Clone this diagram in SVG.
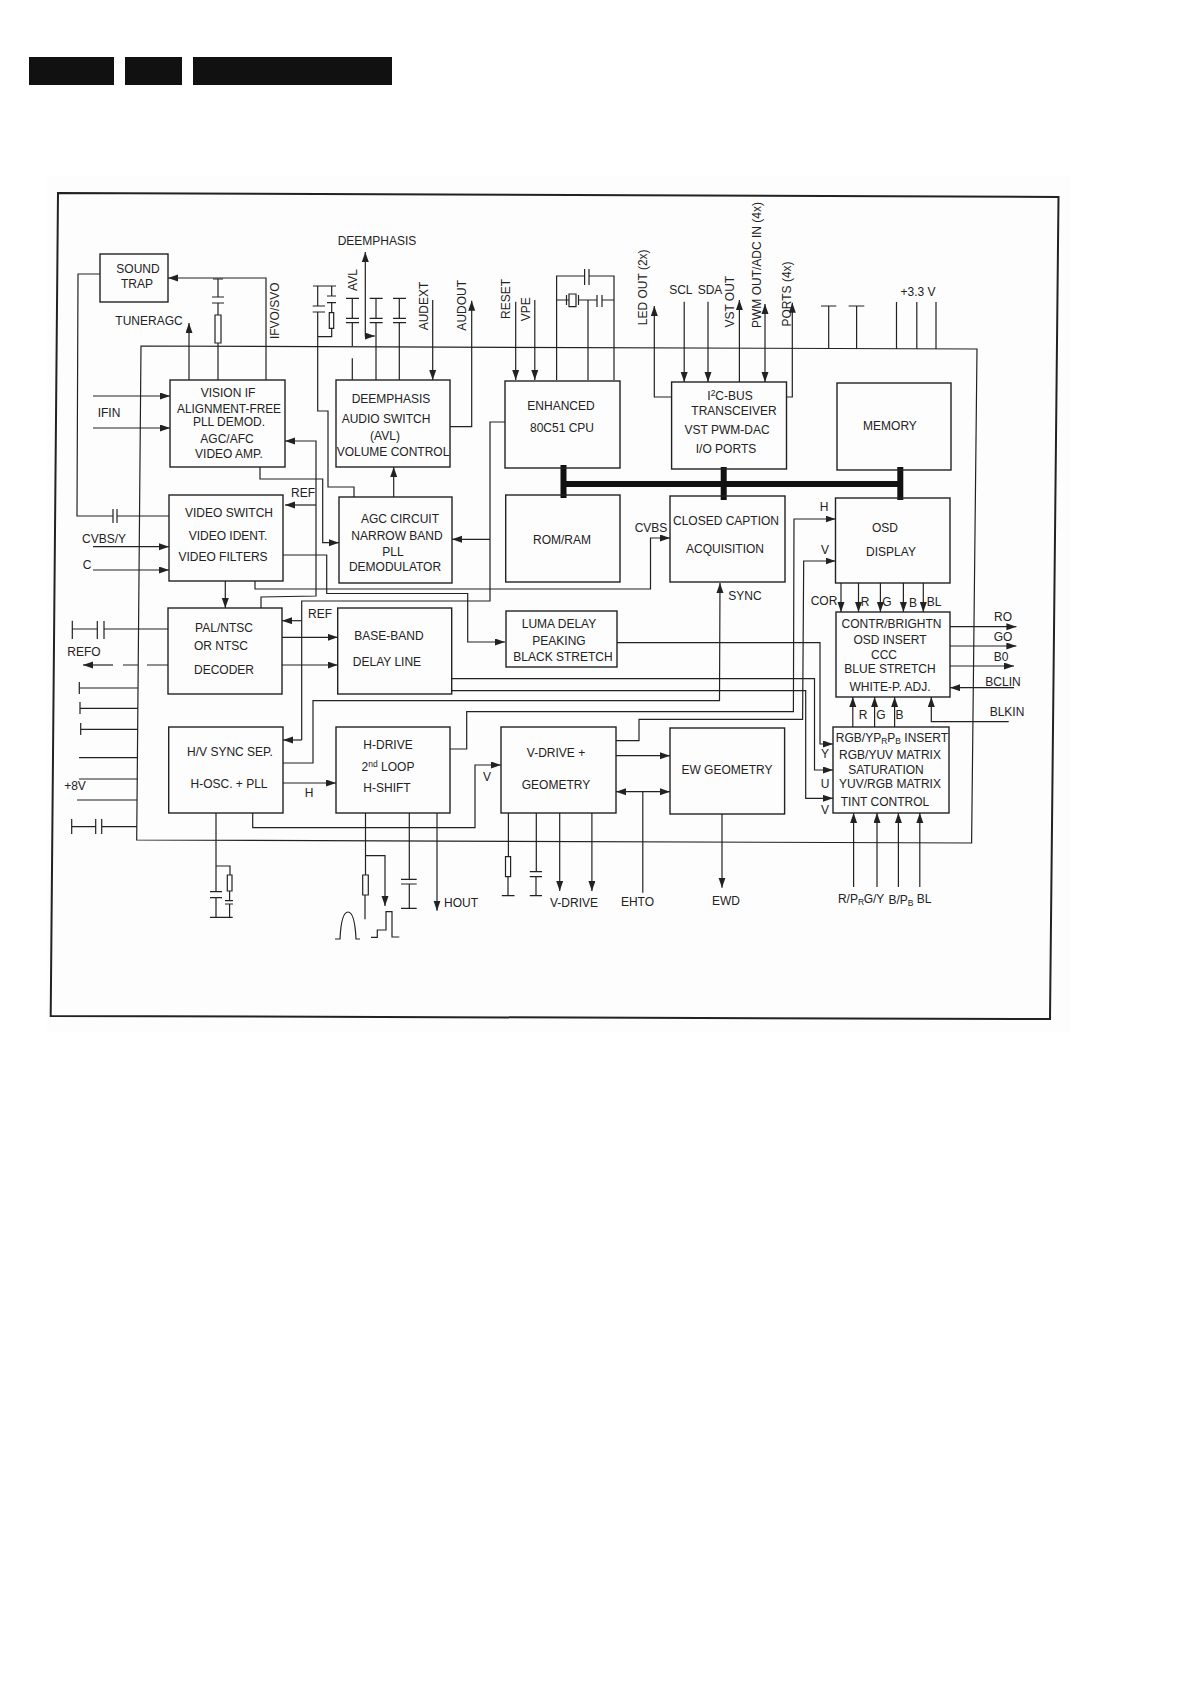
<svg xmlns="http://www.w3.org/2000/svg" width="1192" height="1685" viewBox="0 0 1192 1685">
<style>
text{font-family:"Liberation Sans",Arial,sans-serif;font-size:12px;fill:#222;text-anchor:middle;dominant-baseline:central}
.b{fill:none;stroke:#222;stroke-width:1.4}
.l{fill:none;stroke:#222;stroke-width:1.2}
.a{marker-end:url(#ah)}
.s{marker-start:url(#ahs)}
.bus{fill:none;stroke:#111;stroke-width:6}
.sm{font-size:8.5px}
</style>
<defs>
<marker id="ah" markerUnits="userSpaceOnUse" markerWidth="11" markerHeight="8" refX="10" refY="3.500" orient="auto"><path d="M0 0L10 3.500L0 7z" fill="#222"/></marker>
<marker id="ahs" markerUnits="userSpaceOnUse" markerWidth="11" markerHeight="8" refX="0" refY="3.500" orient="auto"><path d="M10 0L0 3.500L10 7z" fill="#222"/></marker>
</defs>
<rect width="1192" height="1685" fill="#fff"/>
<rect x="46" y="176" width="1024" height="856" fill="#fdfdfd"/>
<g id="header"><rect x="29" y="57" width="85" height="28" fill="#111"/><rect x="125" y="57" width="57" height="28" fill="#111"/><rect x="193" y="57" width="199" height="28" fill="#111"/></g>
<g id="frame">
<polygon class="b" points="58,193 1058.5,197 1050,1019 50.7,1016" style="stroke-width:2"/>
<polygon class="l" points="141,346 977,349 971.6,843 136.7,840"/>
</g>
<g id="connectors">
<path class="l" d="M100 274H78L77 516H113M117 516H169M113 509V523M117 509V523"/>
<path class="l a" d="M266 380V278H168"/>
<path class="l" d="M218 380V343M215 315H221V343H215ZM218 315V303M212 303H224M212 297H224M218 297V279M213 279H223"/>
<path class="l a" d="M189 380V323"/>
<path class="l a" d="M93 396H170"/>
<path class="l a" d="M93 428H170"/>
<path class="l" d="M354 497V487H328V411H317.7V312M312.7 312H325M312.7 306H325M317.7 306V286M313 286H336M331.7 286V296M327 296H336M327 302.700H336M331.700 302.700V312.700M329.300 312.700H333.700V328.300H329.300ZM331.700 328.300V336.700H317.700"/>
<path class="l" d="M352.300 298.300V318.300M346 298.300H359M346 318.300H359M346 322.700H359M352.300 322.700V346M352.300 358.300V380"/>
<path class="l" d="M376 298.300V318.300M369.700 298.300H382.700M369.700 318.300H382.700M369.700 322.700H382.700M376 322.700V380"/>
<path class="l" d="M399.300 298.300V318.300M393 298.300H406M393 318.300H406M393 322.700H406M399.300 322.700V380"/>
<path class="l a s" d="M365.300 252V336H375"/>
<path class="l a" d="M432.700 300V380"/>
<path class="l a" d="M450 426.700H471.700V300.700"/>
<path class="l a" d="M515.700 301.700V380"/>
<path class="l a" d="M534.800 300V380"/>
<path class="l" d="M556.600 380V276H584.600M589 276H614V380M584.600 269V285M589 269V285"/>
<path class="l" d="M556.600 300H569M569 294H576V306.700H569ZM566.500 295V305M578.500 295V305M578.500 300H597M597 295V307M602 295V307M602 300H614M588 300V380"/>
<path class="l" d="M505 422H490V601H301.700V740"/>
<path class="l a" d="M301.700 740H283"/>
<path class="l a" d="M301.700 620.700H282"/>
<path class="l a" d="M490 539.300H452"/>
<path class="l a" d="M261 608V597L316 596V441H285"/>
<path class="l a" d="M316 505H285"/>
<path class="l a" d="M283 555H326.700V593.500H467.700V642H505"/>
<path class="l a" d="M255 581V589H650.500V538H670"/>
<path class="l a" d="M225.300 581V608"/>
<path class="l a" d="M260 467V479H322.700V542.700H339"/>
<path class="l a" d="M393.700 497V467"/>
<path class="l a" d="M93 546.700H169"/>
<path class="l a" d="M93 570H169"/>
<path class="l" d="M72.300 620.700V639M72.300 629H97.300M97.300 621V639M104 621V639M104 629H168"/>
<path class="l" d="M168 665H147M138 665H123"/>
<path class="l a" d="M113 665H83"/>
<path class="l" d="M79.300 682V694M79.300 688H138M80 702V714M80 708.300H138M80.700 723V735M80.700 729.300H138M79 757.700H138M79 779H138M77 800H137"/>
<path class="l" d="M71.700 819V834M71.700 826.700H95.700M95.700 819V834M101.700 819V834M101.700 826.700H137"/>
<path class="l a" d="M283 763H313V700.700H719.500L720 583"/>
<path class="l a" d="M283 783H336"/>
<path class="l a" d="M252.700 813V827.700H475V765H501"/>
<path class="l" d="M216 813V891.700M210 891.700H222M210 897.700H222M216 897.700V917.300M210 917.300H232.700M216 866H230V875M227.300 875H232V891H227.300ZM229.600 891V900.700M225 900.700H233M225 904H233M229.600 904V917.300"/>
<path class="l a" d="M450 749H466.700V711.700H793.400L794 519H835.500"/>
<path class="l a" d="M616 740.700H639V719.300H802.600L803.700 561H835.500"/>
<path class="l" d="M365.500 813V875M362.700 875H368.300V895H362.700ZM365 895V919.300"/>
<path class="l a" d="M365.500 855.700H385V906"/>
<path class="l" d="M335 939H340C341 918 344 912 348 912C352 912 355 918 356 939H360"/>
<path class="l" d="M371 937.300H377.300V930H386V911.700H392V937H399.300"/>
<path class="l" d="M409.300 813V879.300M401 879.300H416.700M401 884H416.700M409.300 884V908.300M401 908.300H416.700"/>
<path class="l a" d="M437 813V910.700"/>
<path class="l" d="M508.400 813V856.700M505.500 856.700H510.600V876.700H505.500ZM508 876.700V895.700M501.800 895.700H514.500"/>
<path class="l" d="M536.300 813V871.700M529.800 871.700H542M529.800 876.700H542M536 876.700V895.700M529.800 895.700H542"/>
<path class="l a" d="M559.700 813V891"/>
<path class="l a" d="M591.900 813V891"/>
<path class="l a" d="M616 755.700H670"/>
<path class="l a s" d="M616 791.700H670"/>
<path class="l" d="M642.800 791.700V892.700"/>
<path class="l a" d="M722 814V887.700"/>
<path class="l a" d="M451.700 678.700H814.500V770H833"/>
<path class="l a" d="M451.700 690.700H805.700V798.300H833"/>
<path class="l a" d="M617 642.700H820V744H833"/>
<path class="l a" d="M282 637.300H337.700"/>
<path class="l a" d="M282 665H337.700"/>
<path class="l a" d="M841 583V612"/>
<path class="l a" d="M858.500 583V612"/>
<path class="l a" d="M880.400 583V612"/>
<path class="l a" d="M903.400 583V612"/>
<path class="l a" d="M923.300 583V612"/>
<path class="l a" d="M950 626.700H1016.400"/>
<path class="l a" d="M950 646H1016.400"/>
<path class="l a" d="M950 666H1014"/>
<path class="l a" d="M1014 687.700H950"/>
<path class="l a" d="M1008.700 721.700H931.300V697"/>
<path class="l a" d="M852.800 727V697"/>
<path class="l a" d="M874.600 727V697"/>
<path class="l a" d="M894.600 727V697"/>
<path class="l a" d="M853.600 887V813"/>
<path class="l a" d="M877 887V813"/>
<path class="l a" d="M898.400 887V813"/>
<path class="l a" d="M919.800 887V813"/>
<path class="l a" d="M671.600 397H654.300V306"/>
<path class="l a" d="M684.200 301.700V382"/>
<path class="l a" d="M708 301.700V382"/>
<path class="l a" d="M739.400 382V300"/>
<path class="l a s" d="M765 304V382"/>
<path class="l a" d="M786.500 397H792.300V302.700"/>
<path class="l" d="M821 306H836.300M828.700 306V348M848.600 306H864.300M856.600 306V349M896.500 302V349M916.800 302V349M936 302V349"/>
<path class="bus" d="M563.500 484H900.300M563.500 465V498M723.700 467V500M900.300 467V500"/>
</g>
<g id="sound-trap"><rect class="b" x="100" y="254" width="68" height="48"/><text x="138" y="269">SOUND</text><text x="137" y="284">TRAP</text></g>
<g id="vision-if"><rect class="b" x="170" y="380" width="115" height="87"/><text x="228" y="393">VISION IF</text><text x="229" y="409" textLength="104" lengthAdjust="spacingAndGlyphs">ALIGNMENT-FREE</text><text x="229" y="422">PLL DEMOD.</text><text x="227" y="439">AGC/AFC</text><text x="229" y="454">VIDEO AMP.</text></g>
<g id="video-switch"><rect class="b" x="169" y="495" width="114" height="86"/><text x="229" y="513">VIDEO SWITCH</text><text x="228" y="536">VIDEO IDENT.</text><text x="223" y="557">VIDEO FILTERS</text></g>
<g id="deemphasis"><rect class="b" x="336" y="380" width="114" height="87"/><text x="391" y="399">DEEMPHASIS</text><text x="386" y="419">AUDIO SWITCH</text><text x="385" y="436">(AVL)</text><text x="393" y="452">VOLUME CONTROL</text></g>
<g id="agc-circuit"><rect class="b" x="339" y="497" width="113" height="86"/><text x="400" y="519">AGC CIRCUIT</text><text x="397" y="536">NARROW BAND</text><text x="393" y="552">PLL</text><text x="395" y="567">DEMODULATOR</text></g>
<g id="cpu"><rect class="b" x="505" y="381" width="115" height="87"/><text x="561" y="406">ENHANCED</text><text x="562" y="428">80C51 CPU</text></g>
<g id="rom-ram"><rect class="b" x="505.700" y="495" width="114.300" height="87"/><text x="562" y="540">ROM/RAM</text></g>
<g id="i2c"><rect class="b" x="671.600" y="382" width="114.900" height="87"/><text x="730" y="396">I<tspan class="sm" dy="-3">2</tspan><tspan dy="3">C-BUS</tspan></text><text x="734" y="411">TRANSCEIVER</text><text x="727" y="430">VST PWM-DAC</text><text x="726" y="449">I/O PORTS</text></g>
<g id="memory"><rect class="b" x="837" y="383" width="114" height="87"/><text x="890" y="426">MEMORY</text></g>
<g id="closed-caption"><rect class="b" x="670" y="496" width="115" height="86"/><text x="726" y="521">CLOSED CAPTION</text><text x="725" y="549">ACQUISITION</text></g>
<g id="osd"><rect class="b" x="835.500" y="498" width="114.500" height="85"/><text x="885" y="528">OSD</text><text x="891" y="552">DISPLAY</text></g>
<g id="pal-ntsc"><rect class="b" x="168" y="608" width="114" height="86"/><text x="224" y="628">PAL/NTSC</text><text x="221" y="646">OR NTSC</text><text x="224" y="670">DECODER</text></g>
<g id="base-band"><rect class="b" x="337.700" y="608" width="114" height="86"/><text x="389" y="636">BASE-BAND</text><text x="387" y="662">DELAY LINE</text></g>
<g id="luma-delay"><rect class="b" x="506" y="611" width="111" height="56"/><text x="559" y="624">LUMA DELAY</text><text x="559" y="641">PEAKING</text><text x="563" y="657">BLACK STRETCH</text></g>
<g id="contr"><rect class="b" x="836" y="612" width="114" height="85"/><text x="891.500" y="624">CONTR/BRIGHTN</text><text x="890" y="640">OSD INSERT</text><text x="884" y="655">CCC</text><text x="890" y="669">BLUE STRETCH</text><text x="890" y="687">WHITE-P. ADJ.</text></g>
<g id="hv-sync"><rect class="b" x="168.700" y="727" width="114.300" height="86"/><text x="230" y="752">H/V SYNC SEP.</text><text x="229" y="784">H-OSC. + PLL</text></g>
<g id="h-drive"><rect class="b" x="336" y="727" width="114" height="86"/><text x="388" y="745">H-DRIVE</text><text x="388" y="767">2<tspan class="sm" dy="-3">nd</tspan><tspan dy="3"> LOOP</tspan></text><text x="387" y="788">H-SHIFT</text></g>
<g id="v-drive"><rect class="b" x="501" y="727" width="115" height="86"/><text x="556" y="753">V-DRIVE +</text><text x="556" y="785">GEOMETRY</text></g>
<g id="ew-geometry"><rect class="b" x="670" y="728" width="114.600" height="86"/><text x="727" y="770">EW GEOMETRY</text></g>
<g id="rgb-matrix"><rect class="b" x="833" y="727" width="116" height="86"/><text x="892" y="738">RGB/YP<tspan class="sm" dy="3">R</tspan><tspan dy="-3">P</tspan><tspan class="sm" dy="3">B</tspan><tspan dy="-3"> INSERT</tspan></text><text x="890" y="755">RGB/YUV MATRIX</text><text x="886" y="770">SATURATION</text><text x="890" y="784">YUV/RGB MATRIX</text><text x="885" y="802">TINT CONTROL</text></g>
<g id="labels">
<text x="149" y="321">TUNERAGC</text><text x="377" y="241">DEEMPHASIS</text>
<text transform="translate(353.300,280) rotate(-90)">AVL</text>
<text transform="translate(275,310.700) rotate(-90)">IFVO/SVO</text>
<text transform="translate(423.700,306) rotate(-90)">AUDEXT</text>
<text transform="translate(461.700,305.300) rotate(-90)">AUDOUT</text>
<text transform="translate(506,299) rotate(-90)">RESET</text>
<text transform="translate(526,309.300) rotate(-90)">VPE</text>
<text transform="translate(642.500,287.300) rotate(-90)">LED OUT (2x)</text>
<text transform="translate(729.800,301.700) rotate(-90)">VST OUT</text>
<text transform="translate(756.600,265) rotate(-90)">PWM OUT/ADC IN (4x)</text>
<text transform="translate(786.500,294) rotate(-90)">PORTS (4x)</text>
<text x="680.800" y="290">SCL</text><text x="710" y="290">SDA</text><text x="918" y="292">+3.3 V</text>
<text x="109" y="413">IFIN</text><text x="303" y="493">REF</text><text x="651" y="528">CVBS</text><text x="824" y="507">H</text><text x="825" y="550">V</text><text x="745" y="596">SYNC</text>
<text x="104" y="539">CVBS/Y</text><text x="87" y="565">C</text><text x="320" y="614">REF</text><text x="84" y="652">REFO</text>
<text x="309" y="793">H</text><text x="487" y="777">V</text><text x="75" y="786">+8V</text><text x="461" y="903">HOUT</text>
<text x="824" y="601">COR</text><text x="865" y="602">R</text><text x="887" y="602">G</text><text x="913" y="603">B</text><text x="934" y="602">BL</text>
<text x="1003" y="617">RO</text><text x="1003" y="637">GO</text><text x="1001" y="657">B0</text><text x="1003" y="682">BCLIN</text><text x="1007" y="712">BLKIN</text>
<text x="863" y="715">R</text><text x="881" y="715">G</text><text x="899.500" y="715">B</text>
<text x="825" y="754">Y</text><text x="825" y="784">U</text><text x="825" y="810">V</text>
<text x="851" y="899">R/P<tspan class="sm" dy="3">R</tspan></text><text x="874" y="899">G/Y</text><text x="901" y="900">B/P<tspan class="sm" dy="3">B</tspan></text><text x="924" y="899">BL</text>
<text x="574" y="903">V-DRIVE</text><text x="637.500" y="902">EHTO</text><text x="726" y="901">EWD</text>
</g>
</svg>
